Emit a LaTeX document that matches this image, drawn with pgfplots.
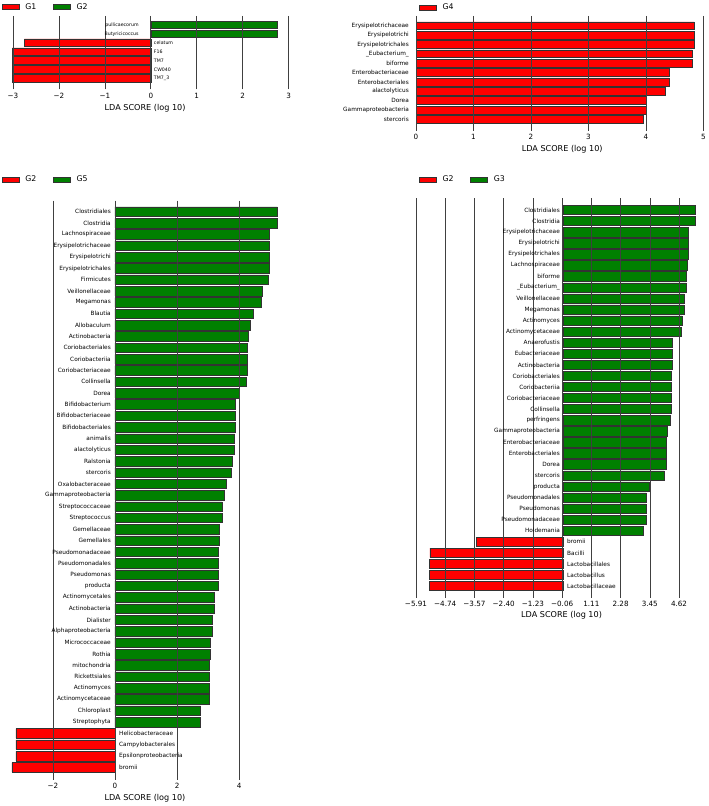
\documentclass[border=0pt]{standalone}
\usepackage{pgfplots}
\usepackage{pgfplotstable}
\pgfplotsset{compat=1.18}
\usepackage{fontspec}
\setmainfont{DejaVu Sans}
\definecolor{lred}{RGB}{255,0,0}
\definecolor{lgreen}{RGB}{0,128,0}

\pgfplotstableread{
y val label
0 2.76 pullicaecorum
1 2.76 Butyricicoccus
}\tAp
\pgfplotstableread{
y val label
2 -2.75 celatum
3 -3.02 F16
4 -3.02 TM7
5 -3.02 CW040
6 -3.02 TM7\_3
}\tAn
\pgfplotstableread{
y val label
0 4.84 Erysipelotrichaceae
1 4.84 Erysipelotrichi
2 4.84 Erysipelotrichales
3 4.80 \_Eubacterium\_
4 4.80 biforme
5 4.41 Enterobacteriaceae
6 4.41 Enterobacteriales
7 4.34 alactolyticus
8 4.01 Dorea
9 4.01 Gammaproteobacteria
10 3.95 stercoris
}\tB
\pgfplotstableread{
y val label
0 5.23 Clostridiales
1 5.23 Clostridia
2 4.97 Lachnospiraceae
3 4.95 Erysipelotrichaceae
4 4.95 Erysipelotrichi
5 4.95 Erysipelotrichales
6 4.94 Firmicutes
7 4.73 Veillonellaceae
8 4.70 Megamonas
9 4.44 Blautia
10 4.34 Allobaculum
11 4.28 Actinobacteria
12 4.25 Coriobacteriales
13 4.25 Coriobacteriia
14 4.25 Coriobacteriaceae
15 4.23 Collinsella
16 4.01 Dorea
17 3.88 Bifidobacterium
18 3.87 Bifidobacteriaceae
19 3.87 Bifidobacteriales
20 3.85 animalis
21 3.83 alactolyticus
22 3.77 Ralstonia
23 3.74 stercoris
24 3.57 Oxalobacteraceae
25 3.52 Gammaproteobacteria
26 3.45 Streptococcaceae
27 3.45 Streptococcus
28 3.35 Gemellaceae
29 3.35 Gemellales
30 3.33 Pseudomonadaceae
31 3.33 Pseudomonadales
32 3.33 Pseudomonas
33 3.33 producta
34 3.21 Actinomycetales
35 3.18 Actinobacteria
36 3.13 Dialister
37 3.12 Alphaproteobacteria
38 3.07 Micrococcaceae
39 3.07 Rothia
40 3.04 mitochondria
41 3.03 Rickettsiales
42 3.02 Actinomyces
43 3.02 Actinomycetaceae
44 2.76 Chloroplast
45 2.76 Streptophyta
}\tCp
\pgfplotstableread{
y val label
46 -3.19 Helicobacteraceae
47 -3.19 Campylobacterales
48 -3.19 Epsilonproteobacteria
49 -3.32 bromii
}\tCn
\pgfplotstableread{
y val label
0 5.26 Clostridiales
1 5.26 Clostridia
2 4.99 Erysipelotrichaceae
3 4.99 Erysipelotrichi
4 5.00 Erysipelotrichales
5 4.93 Lachnospiraceae
6 4.90 biforme
7 4.90 \_Eubacterium\_
8 4.82 Veillonellaceae
9 4.82 Megamonas
10 4.73 Actinomyces
11 4.71 Actinomycetaceae
12 4.34 Anaerofustis
13 4.34 Eubacteriaceae
14 4.33 Actinobacteria
15 4.31 Coriobacteriales
16 4.31 Coriobacteriia
17 4.31 Coriobacteriaceae
18 4.30 Collinsella
19 4.26 perfringens
20 4.15 Gammaproteobacteria
21 4.11 Enterobacteriaceae
22 4.11 Enterobacteriales
23 4.09 Dorea
24 4.01 stercoris
25 3.42 producta
26 3.30 Pseudomonadales
27 3.30 Pseudomonas
28 3.30 Pseudomonadaceae
29 3.18 Holdemania
}\tDp
\pgfplotstableread{
y val label
30 -3.48 bromii
31 -5.35 Bacilli
32 -5.38 Lactobacillales
33 -5.38 Lactobacillus
34 -5.38 Lactobacillaceae
}\tDn

\pgfplotsset{
 lefse/.style={scale only axis, y dir=reverse, clip=false, axis on top,
   axis line style={draw=none}, ytick=\empty, xmajorgrids,
   major grid style={black!75, line width=0.6pt},
   tick align=outside, xtick pos=left, major tick length=4.5pt,
   xtick style={black!75, line width=0.6pt},
   xticklabel style={font=\fontsize{7.2}{8.5}\selectfont},
   xlabel={LDA SCORE (log 10)},
   legend style={draw=none, fill=none, inner sep=0pt, anchor=west,
     legend columns=-1, font=\fontsize{7.8}{9}\selectfont,
     nodes={inner sep=0pt},
     /tikz/every odd column/.style={column sep=6pt},
     /tikz/every even column/.style={column sep=16.7pt}}},
 lbar/.style={xbar, bar width=0.84, bar shift=0pt, draw=black!80, line width=0.5pt,
   legend image code/.code={\draw[##1, line width=0.5pt] (0pt,-2.5pt) rectangle (17pt,2.5pt);}},
 lpos/.style={draw=none, mark=none, forget plot, nodes near coords, point meta=explicit symbolic,
   every node near coord/.append style={anchor=east, inner sep=0pt, xshift=-#1}},
 lneg/.style={draw=none, mark=none, forget plot, nodes near coords, point meta=explicit symbolic,
   every node near coord/.append style={anchor=west, inner sep=0pt, xshift=#1}},
}

\begin{document}
\begin{tikzpicture}
\useasboundingbox (0,0) rectangle (709pt,806pt);

% Panel 1
\begin{axis}[lefse, at={(8.35pt,790pt)}, anchor=north west,
  width=284.9pt, height=68.9pt, xmin=-3.1, xmax=3.1, ymin=-1.01, ymax=6.75,
  xtick={-3,-2,-1,0,1,2,3}, xticklabels={−3,−2,−1,0,1,2,3},
  x label style={at={(axis description cs:0.48,0)}, anchor=center, yshift=-23pt, font=\fontsize{8.1}{9.5}\selectfont},
  legend style={at={(-0.0233,1.1277)}},
  nodes near coords style={font=\fontsize{4.7}{5}\selectfont}]
\addplot[lbar, fill=lred] table[x=val, y=y] {\tAn};
\addlegendentry{G1}
\addplot[lbar, fill=lgreen] table[x=val, y=y] {\tAp};
\addlegendentry{G2}
\addplot[lpos=12pt] table[x expr=0, y=y, meta=label] {\tAp};
\addplot[lneg=3pt] table[x expr=0, y=y, meta=label] {\tAn};
\end{axis}

% Panel 2
\begin{axis}[lefse, at={(416pt,790pt)}, anchor=north west,
  width=287.3pt, height=110.1pt, xmin=0, xmax=5, ymin=-1.04, ymax=10.72,
  xtick={0,1,2,3,4,5}, xticklabels={0,1,2,3,4,5},
  x label style={at={(axis description cs:0.509,0)}, anchor=center, yshift=-23.5pt, font=\fontsize{8.1}{9.5}\selectfont},
  legend style={at={(0.0104,1.0772)}},
  nodes near coords style={font=\fontsize{5.8}{6.5}\selectfont}]
\addplot[lbar, fill=lred] table[x=val, y=y] {\tB};
\addlegendentry{G4}
\addplot[lpos=7pt] table[x expr=0, y=y, meta=label] {\tB};
\end{axis}

% Panel 3
\begin{axis}[lefse, at={(9.36pt,605.3pt)}, anchor=north west,
  width=273.4pt, height=574.4pt, xmin=-3.4, xmax=5.4, ymin=-0.97, ymax=49.68,
  xtick={-2,0,2,4}, xticklabels={−2,0,2,4},
  x label style={at={(axis description cs:0.496,0)}, anchor=center, yshift=-23pt, font=\fontsize{8.1}{9.5}\selectfont},
  legend style={at={(-0.028,1.0369)}},
  nodes near coords style={font=\fontsize{5.8}{6.5}\selectfont}]
\addplot[lbar, fill=lred] table[x=val, y=y] {\tCn};
\addlegendentry{G2}
\addplot[lbar, fill=lgreen] table[x=val, y=y] {\tCp};
\addlegendentry{G5}
\addplot[lpos=4pt] table[x expr=0, y=y, meta=label] {\tCp};
\addplot[lneg=4pt] table[x expr=0, y=y, meta=label] {\tCn};
\end{axis}

% Panel 4
\begin{axis}[lefse, at={(415pt,607.7pt)}, anchor=north west,
  width=283.5pt, height=394.7pt, xmin=-5.95, xmax=5.4, ymin=-1.06, ymax=34.63,
  xtick={-5.91,-4.74,-3.57,-2.40,-1.23,-0.06,1.11,2.28,3.45,4.62},
  xticklabels={−5.91,−4.74,−3.57,−2.40,−1.23,−0.06,1.11,2.28,3.45,4.62},
  x label style={at={(axis description cs:0.517,0)}, anchor=center, yshift=-22pt, font=\fontsize{8.1}{9.5}\selectfont},
  legend style={at={(0.0141,1.0476)}},
  nodes near coords style={font=\fontsize{5.8}{6.5}\selectfont}]
\addplot[lbar, fill=lred] table[x=val, y=y] {\tDn};
\addlegendentry{G2}
\addplot[lbar, fill=lgreen] table[x=val, y=y] {\tDp};
\addlegendentry{G3}
\addplot[lpos=3.6pt] table[x expr=0, y=y, meta=label] {\tDp};
\addplot[lneg=3.4pt] table[x expr=0, y=y, meta=label] {\tDn};
\end{axis}
\end{tikzpicture}
\end{document}
